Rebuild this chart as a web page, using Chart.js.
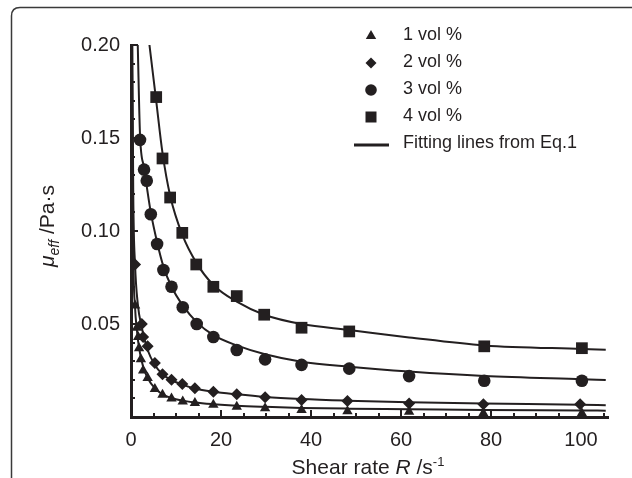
<!DOCTYPE html>
<html>
<head>
<meta charset="utf-8">
<script src="https://cdn.jsdelivr.net/npm/chart.js@4.4.1/dist/chart.umd.min.js"></script>
<style>
  html, body { margin: 0; padding: 0; background: #fff; }
  #wrap { position: relative; width: 632px; height: 478px; }
</style>
</head>
<body>
<div id="wrap"><canvas id="chart" width="632" height="478"></canvas></div>
<script>
/* ---- data ---- */
var SERIES_LABELS = ['1 vol %', '2 vol %', '3 vol %', '4 vol %'];
var FIT_LABEL     = 'Fitting lines from Eq.1';

var X_TICK_STEP = 20;
var Y_TICK_STEP = 0.05;

// 1 vol % (triangles)
var TRI_X = [0.9, 1.3, 1.6, 1.8, 2.2, 2.7, 3.7, 5.3, 7.0, 9.0, 11.5, 14.2, 18.3, 23.5, 29.8, 37.9, 48.1, 61.8, 78.3, 100.2];
var TRI_Y = [0.060, 0.048, 0.043, 0.037, 0.031, 0.025, 0.021, 0.015, 0.012, 0.010, 0.0084, 0.0075, 0.0066, 0.0055, 0.0047, 0.0038, 0.0031, 0.0028, 0.0020, 0.0020];

// 2 vol % (diamonds)
var DIA_X = [0.9, 2.4, 2.7, 3.7, 5.3, 7.0, 9.0, 11.4, 14.2, 18.3, 23.5, 29.8, 37.9, 48.1, 61.8, 78.3, 99.8];
var DIA_Y = [0.082, 0.050, 0.043, 0.038, 0.029, 0.023, 0.020, 0.0177, 0.0154, 0.0136, 0.0122, 0.0106, 0.0091, 0.0086, 0.0072, 0.0068, 0.0068];

// 3 vol % (circles)
var CIR_X = [2.0, 2.9, 3.5, 4.4, 5.8, 7.2, 9.0, 11.5, 14.6, 18.3, 23.5, 29.8, 37.9, 48.5, 61.8, 78.5, 100.2];
var CIR_Y = [0.149, 0.133, 0.127, 0.109, 0.093, 0.079, 0.070, 0.059, 0.050, 0.043, 0.036, 0.031, 0.028, 0.026, 0.022, 0.0195, 0.0195];

// 4 vol % (squares)
var SQR_X = [5.6, 7.0, 8.7, 11.4, 14.5, 18.3, 23.5, 29.6, 37.9, 48.5, 78.5, 100.2];
var SQR_Y = [0.172, 0.139, 0.118, 0.099, 0.082, 0.070, 0.065, 0.055, 0.048, 0.046, 0.038, 0.037];

// fitting curves, points
var FIT1_X = [0.2, 0.5, 0.9, 1.3, 1.8, 2.7, 3.7, 5.3, 7.0, 9.0, 11.5, 14.2, 18.3, 23.5, 29.8, 37.9, 48.1, 61.8, 78.3, 100, 105.5];
var FIT1_Y = [0.200, 0.090, 0.059, 0.047, 0.037, 0.027, 0.021, 0.0155, 0.0122, 0.0102, 0.0088, 0.0078, 0.0069, 0.0061, 0.0055, 0.0049, 0.0045, 0.0042, 0.0038, 0.0035, 0.0034];

var FIT2_X = [0.3, 0.5, 0.9, 1.5, 2.4, 3.7, 5.3, 7.0, 9.0, 11.4, 14.2, 18.3, 23.5, 29.8, 37.9, 48.1, 61.8, 78.3, 100, 105.5];
var FIT2_Y = [0.200, 0.120, 0.082, 0.061, 0.048, 0.036, 0.028, 0.023, 0.0198, 0.0174, 0.0153, 0.0136, 0.0122, 0.0108, 0.0097, 0.0088, 0.0079, 0.0072, 0.0066, 0.0063];

var FIT3_X = [1.5, 2.0, 2.9, 3.5, 4.4, 5.8, 7.2, 9.0, 11.5, 14.6, 18.3, 23.5, 29.8, 37.9, 48.5, 61.8, 78.5, 100.2, 105.5];
var FIT3_Y = [0.200, 0.152, 0.134, 0.124, 0.110, 0.094, 0.081, 0.070, 0.060, 0.051, 0.044, 0.0385, 0.0337, 0.0297, 0.027, 0.0244, 0.022, 0.0203, 0.0199];

var FIT4_X = [4.1, 5.6, 7.0, 8.7, 11.4, 14.5, 18.3, 23.5, 29.6, 37.9, 48.5, 61.8, 78.5, 100.2, 105.5];
var FIT4_Y = [0.200, 0.170, 0.142, 0.119, 0.098, 0.083, 0.071, 0.062, 0.055, 0.050, 0.0468, 0.0428, 0.0385, 0.0366, 0.0362];

/* ---- helpers ---- */
var INK  = '#231f20';
var FONT = '"Liberation Sans", Arial, Helvetica, sans-serif';

function pts(xs, ys) {
    return xs.map(function(x, i) { return { x: x, y: ys[i] }; });
}

function markerSet(label, xs, ys, style, radius) {
    return {
        label: label,
        data: pts(xs, ys),
        showLine: false,
        pointStyle: style,
        pointRadius: radius,
        pointHoverRadius: radius,
        pointBackgroundColor: INK,
        pointBorderColor: INK,
        pointBorderWidth: 0,
        order: 1
    };
}

function fitSet(xs, ys) {
    return {
        label: FIT_LABEL,
        data: pts(xs, ys),
        showLine: true,
        borderColor: INK,
        borderWidth: 2,
        pointRadius: 0,
        pointHoverRadius: 0,
        cubicInterpolationMode: 'monotone',
        fill: false,
        order: 2
    };
}

var datasets = [
    markerSet(SERIES_LABELS[0], TRI_X, TRI_Y, 'triangle', 6),
    markerSet(SERIES_LABELS[1], DIA_X, DIA_Y, 'rectRot', 6),
    markerSet(SERIES_LABELS[2], CIR_X, CIR_Y, 'circle', 6.3),
    markerSet(SERIES_LABELS[3], SQR_X, SQR_Y, 'rect', 8.3),
    fitSet(FIT1_X, FIT1_Y),
    fitSet(FIT2_X, FIT2_Y),
    fitSet(FIT3_X, FIT3_Y),
    fitSet(FIT4_X, FIT4_Y)
];

// legend marker, same shapes as the chart's point styles
function legendMarker(ctx, style, x, y) {
    ctx.beginPath();
    if (style === 'triangle') {
        ctx.moveTo(x, y - 6);
        ctx.lineTo(x + 5.2, y + 3);
        ctx.lineTo(x - 5.2, y + 3);
        ctx.closePath();
    } else if (style === 'rectRot') {
        ctx.moveTo(x, y - 5.5);
        ctx.lineTo(x + 5.5, y);
        ctx.lineTo(x, y + 5.5);
        ctx.lineTo(x - 5.5, y);
        ctx.closePath();
    } else if (style === 'circle') {
        ctx.arc(x, y, 5.8, 0, Math.PI * 2);
    } else {
        ctx.rect(x - 5.5, y - 5.5, 11, 11);
    }
    ctx.fill();
}

function drawParts(ctx, parts, cx, baseY) {
    var total = 0;
    parts.forEach(function(p) { ctx.font = p.f; p.w = ctx.measureText(p.t).width; total += p.w; });
    var x = cx - total / 2;
    ctx.textAlign = 'left';
    parts.forEach(function(p) {
        ctx.font = p.f;
        ctx.fillText(p.t, x, baseY + p.dy);
        x += p.w;
    });
}

/* frame, inward ticks, axis titles, legend */
var decorPlugin = {
    id: 'decor',
    beforeDraw: function(chart) {
        var ctx = chart.ctx;
        ctx.save();
        ctx.strokeStyle = '#3a3a3a';
        ctx.lineWidth = 1.5;
        ctx.beginPath();
        ctx.moveTo(11.5, 478);
        ctx.lineTo(11.5, 16);
        ctx.quadraticCurveTo(11.5, 7.5, 20, 7.5);
        ctx.lineTo(632, 7.5);
        ctx.stroke();
        ctx.restore();
    },
    afterDraw: function(chart) {
        var ctx = chart.ctx;
        var xs = chart.scales.x, ys = chart.scales.y;
        var area = chart.chartArea;
        var v, p, major;

        ctx.save();
        ctx.strokeStyle = INK;
        ctx.lineWidth = 2;
        ctx.beginPath();
        for (v = 0; v <= 105; v += 5) {
            p = Math.round(xs.getPixelForValue(v));
            major = v % X_TICK_STEP === 0;
            ctx.moveTo(p, area.bottom);
            ctx.lineTo(p, area.bottom - (major ? 7 : 4));
        }
        for (v = 0; v <= 20; v += 1) {
            p = Math.round(ys.getPixelForValue(v / 100));
            major = v % 5 === 0;
            ctx.moveTo(area.left, p);
            ctx.lineTo(area.left + (major ? 7 : 4), p);
        }
        ctx.stroke();

        ctx.fillStyle = INK;
        ctx.textBaseline = 'alphabetic';
        drawParts(ctx, [
            { t: 'Shear rate ', f: '21px ' + FONT, dy: 0 },
            { t: 'R', f: 'italic 21px ' + FONT, dy: 0 },
            { t: ' /s', f: '21px ' + FONT, dy: 0 },
            { t: '-1', f: '13px ' + FONT, dy: -8 }
        ], 368, 474);

        ctx.save();
        ctx.translate(54, 226);
        ctx.rotate(-Math.PI / 2);
        drawParts(ctx, [
            { t: '\u03bc', f: 'italic 21px ' + FONT, dy: 0 },
            { t: 'eff', f: 'italic 14px ' + FONT, dy: 5 },
            { t: ' /Pa\u00b7s', f: '21px ' + FONT, dy: 0 }
        ], 0, 0);
        ctx.restore();

        var rows = [35, 62, 89, 116];
        ctx.font = '18px ' + FONT;
        ctx.textBaseline = 'middle';
        chart.data.datasets.slice(0, 4).forEach(function(ds, i) {
            legendMarker(ctx, ds.pointStyle, 371, rows[i] + 1);
            ctx.fillText(ds.label, 403, rows[i]);
        });
        ctx.beginPath();
        ctx.lineWidth = 3;
        ctx.moveTo(354, 145);
        ctx.lineTo(389, 145);
        ctx.stroke();
        ctx.fillText(FIT_LABEL, 403, 143);
        ctx.restore();
    }
};

new Chart(document.getElementById('chart'), {
    type: 'scatter',
    data: { datasets: datasets },
    plugins: [decorPlugin],
    options: {
        responsive: false,
        animation: false,
        events: [],
        layout: { padding: { top: 45, right: 24, left: 0, bottom: 0 } },
        plugins: {
            legend: { display: false },
            tooltip: { enabled: false }
        },
        scales: {
            x: {
                type: 'linear',
                min: 0,
                max: 106,
                afterFit: function(s) { s.height = 61; },
                grid: { display: false, drawTicks: false },
                border: { display: true, color: INK, width: 3 },
                ticks: {
                    stepSize: X_TICK_STEP,
                    includeBounds: false,
                    color: INK,
                    padding: 11,
                    maxRotation: 0,
                    font: { family: FONT, size: 20 }
                }
            },
            y: {
                type: 'linear',
                min: 0,
                max: 0.2,
                afterFit: function(s) { s.width = 131; },
                grid: { display: false, drawTicks: false },
                border: { display: true, color: INK, width: 3 },
                ticks: {
                    stepSize: Y_TICK_STEP,
                    color: INK,
                    padding: 11,
                    font: { family: FONT, size: 20 },
                    callback: function(v) { return v === 0 ? '' : v.toFixed(2); }
                }
            }
        }
    }
});
</script>
</body>
</html>
